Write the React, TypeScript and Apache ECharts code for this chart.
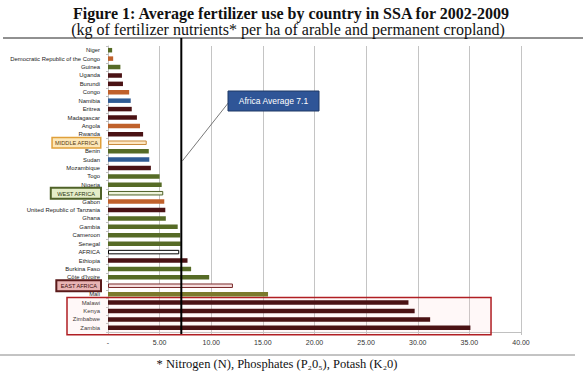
import React, { useEffect, useRef } from "react";
import * as echarts from "echarts";

const categories = [
  "Niger", "Democratic Republic of the Congo", "Guinea", "Uganda", "Burundi", "Congo",
  "Namibia", "Eritrea", "Madagascar", "Angola", "Rwanda", "MIDDLE AFRICA", "Benin",
  "Sudan", "Mozambique", "Togo", "Nigeria", "WEST AFRICA", "Gabon",
  "United Republic of Tanzania", "Ghana", "Gambia", "Cameroon", "Senegal", "AFRICA",
  "Ethiopia", "Burkina Faso", "Côte d'Ivoire", "EAST AFRICA", "Mali", "Malawi",
  "Kenya", "Zimbabwe", "Zambia",
];

const values = [
  0.4, 0.5, 1.2, 1.35, 1.45, 2.05, 2.2, 2.3, 2.8, 3.1, 3.4, 3.75, 3.95,
  4.0, 4.15, 5.0, 5.2, 5.35, 5.45, 5.55, 5.6, 6.75, 7.0, 7.05, 6.9,
  7.7, 8.05, 9.8, 12.1, 15.5, 29.1, 29.7, 31.2, 35.1,
];

const groups = [
  "W", "M", "W", "E", "E", "M", "S", "E", "E", "M", "E", "MA", "W",
  "S", "E", "W", "W", "WA", "M", "E", "W", "W", "W", "W", "AF",
  "E", "W", "W", "EA", "W2", "E", "E", "E", "E",
];

const xTicks = [0, 5, 10, 15, 20, 25, 30, 35, 40];
const africaAverage = 7.1;
const boxedCountries = ["Malawi", "Zambia"];

const groupStyle: Record<string, { color: string; borderColor?: string; borderWidth?: number }> = {
  W: { color: "#566b26" },
  W2: { color: "#7b7a2c" },
  M: { color: "#c0612b" },
  E: { color: "#4a1214" },
  S: { color: "#2f5b94" },
  MA: { color: "#fde7c4", borderColor: "#c98a3a", borderWidth: 1 },
  WA: { color: "#eef3dc", borderColor: "#4f6228", borderWidth: 1 },
  AF: { color: "#ffffff", borderColor: "#000000", borderWidth: 1 },
  EA: { color: "#f6dede", borderColor: "#7a2a2a", borderWidth: 1 },
};

const labelFont = "'Liberation Sans', Arial, sans-serif";
const serif = "'Liberation Serif', 'DejaVu Serif', serif";

export default function App() {
  const ref = useRef<HTMLDivElement>(null);
  useEffect(() => {
    if (!ref.current) return;
    const chart = echarts.init(ref.current, undefined, { renderer: "svg" });
    const data = values.map((v, i) => {
      const s = groupStyle[groups[i]];
      return {
        value: v,
        itemStyle: {
          color: s.color,
          borderColor: s.borderColor || s.color,
          borderWidth: s.borderWidth || 0,
        },
      };
    });
    chart.setOption({
      animation: false,
      backgroundColor: "#ffffff",
      grid: { left: 108, right: 62, top: 46, bottom: 45, containLabel: false },
      xAxis: {
        type: "value",
        min: 0,
        max: 40,
        interval: 5,
        axisLine: { show: true, lineStyle: { color: "#c0c0c0" } },
        axisTick: { show: true, length: 3, lineStyle: { color: "#c0c0c0" } },
        splitLine: { show: true, lineStyle: { color: "#c4c4c4", width: 1 } },
        axisLabel: {
          fontFamily: labelFont,
          fontSize: 7,
          color: "#333",
          margin: 7,
          formatter: (v: number) => (xTicks.includes(v) ? (v === 0 ? "-" : v.toFixed(2)) : ""),
        },
      },
      yAxis: {
        type: "category",
        data: categories,
        inverse: true,
        axisLine: { show: true, lineStyle: { color: "#c0c0c0" } },
        axisTick: { show: true, length: 2, lineStyle: { color: "#c0c0c0" } },
        axisLabel: {
          interval: 0,
          fontFamily: labelFont,
          fontSize: 5.9,
          color: "#222",
          margin: 8,
          formatter: (v: string) => {
            if (v === "MIDDLE AFRICA") return "{ma|" + v + "}";
            if (v === "WEST AFRICA") return "{wa|" + v + "}";
            if (v === "EAST AFRICA") return "{ea|" + v + "}";
            return v;
          },
          rich: {
            ma: {
              fontFamily: labelFont, fontSize: 5.6, color: "#5a3a10",
              backgroundColor: "#fde7b8", borderColor: "#e0a03a", borderWidth: 1.5,
              padding: [2, 2, 1, 2],
            },
            wa: {
              fontFamily: labelFont, fontSize: 5.6, color: "#2a3510",
              backgroundColor: "#e4edc8", borderColor: "#4f6228", borderWidth: 2,
              padding: [2, 5, 1, 5],
            },
            ea: {
              fontFamily: labelFont, fontSize: 5.6, color: "#3a0a0a",
              backgroundColor: "#e8b4b4", borderColor: "#5a1a1a", borderWidth: 2,
              padding: [2, 3, 1, 3],
            },
          },
        },
      },
      series: [
        {
          type: "bar",
          data,
          barWidth: 4.5,
          z: 3,
        },
      ],
    });

    const xAvg = chart.convertToPixel({ xAxisIndex: 0 }, africaAverage) as number;
    const yTop = chart.convertToPixel({ yAxisIndex: 0 }, boxedCountries[0]) as number;
    const yBot = chart.convertToPixel({ yAxisIndex: 0 }, boxedCountries[1]) as number;
    const xRight = chart.convertToPixel({ xAxisIndex: 0 }, 37) as number;

    chart.setOption({
      graphic: [
        {
          type: "text", z: 12, x: 291, y: 13,
          style: {
            text: "Figure 1: Average fertilizer use by country in SSA for 2002-2009",
            fill: "#111", fontSize: 16, fontWeight: "bold", fontFamily: serif,
            align: "center", verticalAlign: "middle",
          },
        },
        {
          type: "text", z: 12, x: 288, y: 29,
          style: {
            text: "(kg of fertilizer nutrients* per ha of arable and permanent cropland)",
            fill: "#111", fontSize: 16, fontFamily: serif,
            align: "center", verticalAlign: "middle",
          },
        },
        { type: "line", z: 10, shape: { x1: 3, y1: 38, x2: 583, y2: 38 }, style: { stroke: "#222", lineWidth: 1 } },
        { type: "line", z: 10, shape: { x1: 0, y1: 355, x2: 575, y2: 355 }, style: { stroke: "#888", lineWidth: 1 } },
        {
          type: "rect", z: 1,
          shape: { x: 67, y: yTop - 5, width: xRight - 67 + 1, height: yBot - yTop + 12 },
          style: { fill: "rgba(255,210,210,0.15)", stroke: "#b01e23", lineWidth: 1.5 },
        },
        { type: "line", z: 10, shape: { x1: xAvg, y1: 38, x2: xAvg, y2: 334 }, style: { stroke: "#000", lineWidth: 2 } },
        { type: "line", z: 10, shape: { x1: 229, y1: 102, x2: xAvg + 1, y2: 161 }, style: { stroke: "#555", lineWidth: 0.8 } },
        {
          type: "rect", z: 11,
          shape: { x: 228, y: 91, width: 91, height: 20 },
          style: { fill: "#2f5597", stroke: "#1f3864", lineWidth: 1 },
        },
        {
          type: "text", z: 12, x: 273.5, y: 101,
          style: {
            text: "Africa Average 7.1", fill: "#fff", fontSize: 8.5, fontFamily: labelFont,
            align: "center", verticalAlign: "middle",
          },
        },
        {
          type: "text", z: 12, x: 277, y: 364,
          style: {
            text: "* Nitrogen (N), Phosphates (P₂0₅), Potash (K₂0)", fill: "#111", fontSize: 12.5,
            fontFamily: serif, align: "center", verticalAlign: "middle",
          },
        },
      ],
    });
    return () => chart.dispose();
  }, []);
  return (
    <div
      ref={ref}
      style={{ position: "fixed", left: 0, top: 0, width: 583, height: 377, background: "#fff" }}
    />
  );
}
